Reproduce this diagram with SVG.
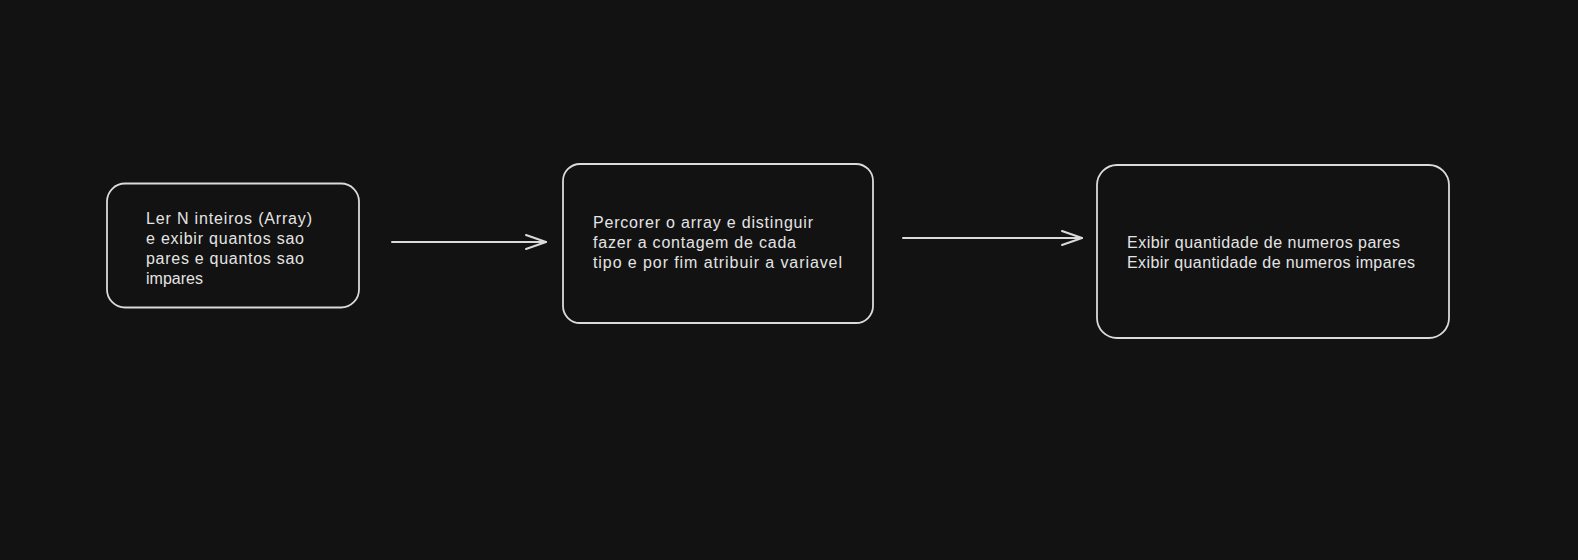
<svg xmlns="http://www.w3.org/2000/svg" width="1578" height="560" viewBox="0 0 1578 560">
<defs>
<style>
.box{fill:#121212;stroke:#dadada;stroke-width:1.8}
.lbl{fill:#e4e4e4;font-family:"Liberation Sans","DejaVu Sans",sans-serif;font-size:16px}
.conn{stroke:#dadada;stroke-width:2;fill:none;stroke-linecap:round}
</style>
<marker id="arr" viewBox="0 0 24 18" refX="22" refY="9" markerWidth="24" markerHeight="18" markerUnits="userSpaceOnUse" orient="auto">
<path d="M2 2 L22 9 L2 16" fill="none" stroke="#dadada" stroke-width="2" stroke-linecap="round" stroke-linejoin="round"/>
</marker>
</defs>
<rect width="1578" height="560" fill="#121212"/>
<g id="node1">
<rect class="box" x="107" y="183.5" width="252" height="124" rx="18"/>
<text class="lbl" x="146" y="224" textLength="166" lengthAdjust="spacing">Ler N inteiros (Array)</text>
<text class="lbl" x="146" y="244" textLength="158" lengthAdjust="spacing">e exibir quantos sao</text>
<text class="lbl" x="146" y="264" textLength="158" lengthAdjust="spacing">pares e quantos sao</text>
<text class="lbl" x="146" y="284">impares</text>
</g>
<g id="node2">
<rect class="box" x="563" y="164" width="310" height="159" rx="17"/>
<text class="lbl" x="593" y="228" textLength="220" lengthAdjust="spacing">Percorer o array e distinguir</text>
<text class="lbl" x="593" y="248" textLength="203" lengthAdjust="spacing">fazer a contagem de cada</text>
<text class="lbl" x="593" y="268" textLength="249" lengthAdjust="spacing">tipo e por fim atribuir a variavel</text>
</g>
<g id="node3">
<rect class="box" x="1097" y="165" width="352" height="173" rx="20"/>
<text class="lbl" x="1127" y="248" textLength="273" lengthAdjust="spacing">Exibir quantidade de numeros pares</text>
<text class="lbl" x="1127" y="268" textLength="288" lengthAdjust="spacing">Exibir quantidade de numeros impares</text>
</g>
<g id="connectors">
<line class="conn" x1="392" y1="242" x2="546" y2="242" marker-end="url(#arr)"/>
<line class="conn" x1="903" y1="238" x2="1082" y2="238" marker-end="url(#arr)"/>
</g>
</svg>
